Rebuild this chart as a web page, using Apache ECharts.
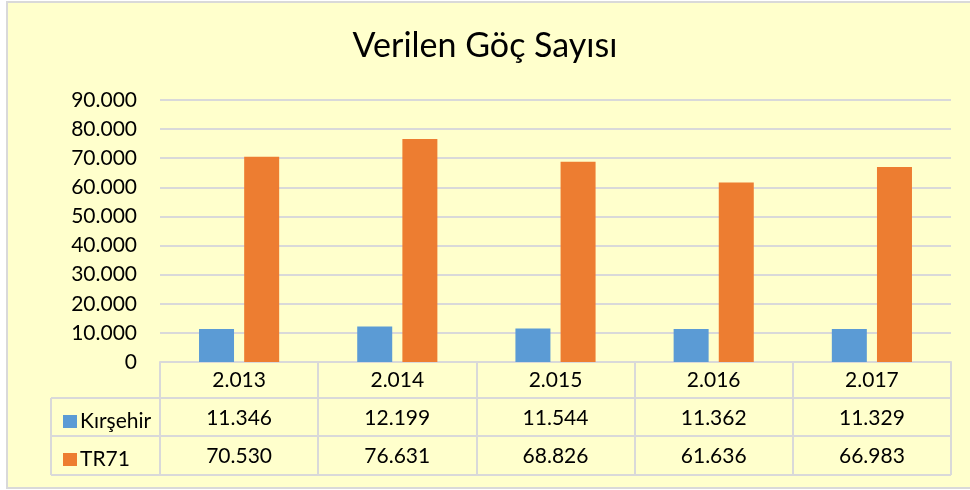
<!DOCTYPE html>
<html>
<head>
<meta charset="utf-8">
<script src="https://cdn.jsdelivr.net/npm/echarts@6/dist/echarts.min.js"></script>
<style>
  html, body { margin: 0; padding: 0; background: #fff; }
  #chart { width: 970px; height: 490px; }
</style>
</head>
<body>
<div id="chart"></div>
<script>
var years = ["2.013", "2.014", "2.015", "2.016", "2.017"];
var kirsehir = [11346, 12199, 11544, 11362, 11329];
var tr71 = [70530, 76631, 68826, 61636, 66983];
var yTicks = [0, 10000, 20000, 30000, 40000, 50000, 60000, 70000, 80000, 90000];

var font = "Lato";
var lineColor = "#D9D9D9";

// sayıları nokta ile binlik ayır
function fmt(v) {
  if (v === 0) return "0";
  var s = String(v);
  return s.slice(0, s.length - 3) + "." + s.slice(s.length - 3);
}

var gridLeft = 160, gridRight = 951, gridTop = 100, axisY = 362;
var rowH = 38, legendLeft = 51;
var rows = [axisY + 36, axisY + 36 + rowH, axisY + 36 + rowH * 2 + 1];

var chart = echarts.init(document.getElementById("chart"));
var option = {
  backgroundColor: "#fff",
  animation: false,
  title: {
    text: "Verilen Göç Sayısı",
    left: "center",
    top: 24,
    textStyle: { fontFamily: font, fontSize: 34, fontWeight: "normal", color: "#000" }
  },
  legend: [
    {
      data: ["Kırşehir"], left: 58, top: rows[0] + 8, itemWidth: 14, itemHeight: 13, itemGap: 0,
      icon: "rect", textStyle: { fontFamily: font, fontSize: 21, color: "#000", padding: [0, 0, 0, -2] }
    },
    {
      data: ["TR71"], left: 58, top: rows[1] + 8, itemWidth: 14, itemHeight: 13, itemGap: 0,
      icon: "rect", textStyle: { fontFamily: font, fontSize: 21, color: "#000", padding: [0, 0, 0, -2] }
    }
  ],
  grid: { left: gridLeft, right: 970 - gridRight, top: gridTop, bottom: 490 - axisY, containLabel: false },
  xAxis: [
    {
      type: "category", data: years, position: "bottom",
      axisLine: { lineStyle: { color: lineColor, width: 2 } },
      axisTick: { show: true, length: rows[2] - axisY, lineStyle: { color: lineColor, width: 2 } },
      axisLabel: { margin: 18, verticalAlign: "middle", fontFamily: font, fontSize: 21, color: "#000" }
    },
    {
      type: "category", data: kirsehir.map(fmt), position: "bottom", offset: 38,
      axisLine: { show: false }, axisTick: { show: false },
      axisLabel: { margin: 18, verticalAlign: "middle", fontFamily: font, fontSize: 21, color: "#000" }
    },
    {
      type: "category", data: tr71.map(fmt), position: "bottom", offset: 76,
      axisLine: { show: false }, axisTick: { show: false },
      axisLabel: { margin: 18, verticalAlign: "middle", fontFamily: font, fontSize: 21, color: "#000" }
    }
  ],
  yAxis: {
    type: "value", min: yTicks[0], max: yTicks[yTicks.length - 1], interval: 10000,
    axisLine: { show: false }, axisTick: { show: false },
    splitLine: { lineStyle: { color: lineColor, width: 2 } },
    axisLabel: { margin: 23, fontFamily: font, fontSize: 21, color: "#000", formatter: fmt }
  },
  series: [
    { name: "Kırşehir", type: "bar", data: kirsehir, barWidth: 35, barGap: "29%", itemStyle: { color: "#5B9BD5" } },
    { name: "TR71", type: "bar", data: tr71, barWidth: 35, itemStyle: { color: "#ED7D31" } }
  ],
  graphic: [
    {
      type: "rect", z: -10, silent: true,
      shape: { x: 7, y: 2, width: 965, height: 486 },
      style: { fill: "#FFFFCC", stroke: lineColor, lineWidth: 2 }
    },
    { type: "line", silent: true, shape: { x1: legendLeft, y1: rows[0], x2: gridRight, y2: rows[0] }, style: { stroke: lineColor, lineWidth: 2 } },
    { type: "line", silent: true, shape: { x1: legendLeft, y1: rows[1], x2: gridRight, y2: rows[1] }, style: { stroke: lineColor, lineWidth: 2 } },
    { type: "line", silent: true, shape: { x1: legendLeft, y1: rows[2], x2: gridRight, y2: rows[2] }, style: { stroke: lineColor, lineWidth: 2 } },
    { type: "line", silent: true, shape: { x1: legendLeft, y1: rows[0], x2: legendLeft, y2: rows[2] }, style: { stroke: lineColor, lineWidth: 2 } }
  ]
};
chart.setOption(option);
</script>
</body>
</html>
